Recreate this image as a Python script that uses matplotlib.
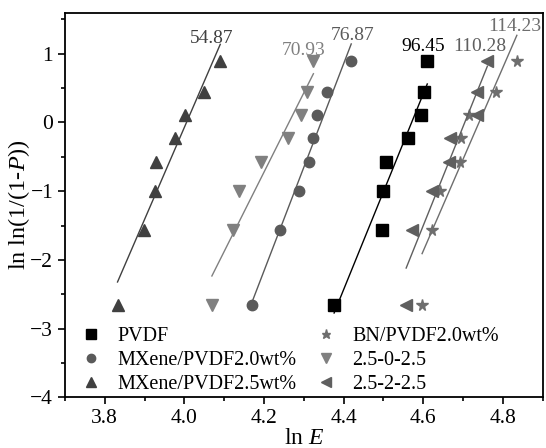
import numpy as np
import matplotlib
matplotlib.use("Agg")
import matplotlib.pyplot as plt

plt.rcParams['font.family'] = ['Liberation Serif', 'DejaVu Serif']
plt.rcParams['mathtext.fontset'] = 'custom'
plt.rcParams['mathtext.rm'] = 'Liberation Serif'
plt.rcParams['mathtext.it'] = 'Liberation Serif:italic'

# ln ln(1/(1-P)) for the 8 ranked samples (same for every series)
y_rank = [-2.65, -1.56, -1.0, -0.58, -0.22, 0.11, 0.45, 0.89]

# ln E of each sample, by series
x_pvdf = [4.376, 4.496, 4.500, 4.506, 4.562, 4.594, 4.601, 4.610]
x_mx20 = [4.170, 4.240, 4.288, 4.313, 4.324, 4.332, 4.357, 4.419]
x_mx25 = [3.832, 3.899, 3.926, 3.928, 3.976, 4.002, 4.048, 4.090]
x_bn20 = [4.597, 4.622, 4.641, 4.691, 4.694, 4.716, 4.782, 4.835]
x_202 = [4.069, 4.122, 4.137, 4.192, 4.260, 4.294, 4.307, 4.324]
x_222 = [4.557, 4.572, 4.622, 4.664, 4.668, 4.736, 4.736, 4.761]

labels = ['PVDF', 'MXene/PVDF2.0wt%', 'MXene/PVDF2.5wt%',
          'BN/PVDF2.0wt%', '2.5-0-2.5', '2.5-2-2.5']
# Weibull scale values written above each fit line
e0_text = ['96.45', '76.87', '54.87', '114.23', '70.93', '110.28']
e0_pos = [(4.601, 1.11), (4.422, 1.27), (4.069, 1.22),
          (4.830, 1.39), (4.300, 1.05), (4.741, 1.11)]

series = [x_pvdf, x_mx20, x_mx25, x_bn20, x_202, x_222]
markers = ['s', 'o', '^', '*', 'v', '<']
msizes = [8.5, 7.5, 8.5, 8.5, 8.5, 8.5]
colors = ['#000000', '#5a5a5a', '#404040', '#6e6e6e', '#808080', '#5f5f5f']

fig, ax = plt.subplots(figsize=(5.46, 4.48), dpi=100)
fig.subplots_adjust(left=0.119, right=0.994, bottom=0.113, top=0.972)

handles = []
for xs, m, ms, c in zip(series, markers, msizes, colors):
    h, = ax.plot(xs, y_rank, linestyle='none', marker=m, ms=ms, color=c)
    handles.append(h)
    k, b = np.polyfit(xs, y_rank, 1)
    xl = np.array([min(xs), max(xs)])
    ax.plot(xl, k * xl + b, color=c, lw=1.0)

for t, (px, py), c in zip(e0_text, e0_pos, colors):
    ax.text(px, py, t, color=c, fontsize=14, ha='center', va='center')

ax.legend(handles, labels, ncol=2, loc='lower left', frameon=False,
          fontsize=14.5, handlelength=1.0, handletextpad=0.8,
          columnspacing=1.0, labelspacing=0.25, borderaxespad=0.0,
          markerscale=0.8, borderpad=0.2, bbox_to_anchor=(0.0245, -0.002))

ax.set_xlim(3.7, 4.9)
ax.set_ylim(-4, 1.6)
ax.set_xticks([3.8, 4.0, 4.2, 4.4, 4.6, 4.8])
ax.set_xticks(np.arange(3.7, 4.91, 0.1), minor=True)
ax.set_yticks([-4, -3, -2, -1, 0, 1])
ax.set_yticks(np.arange(-3.5, 1.6, 1.0), minor=True)
ax.tick_params(which='both', direction='out', labelsize=15.5, width=1.2)
ax.tick_params(which='major', length=5)
ax.tick_params(which='minor', length=3)
for s in ax.spines.values():
    s.set_linewidth(1.3)

ax.set_xlabel(r'ln $E$', fontsize=17, labelpad=0)
ax.set_ylabel(r'ln ln(1/(1-$P$))', fontsize=17.5, labelpad=-1)

fig.savefig('out.png', dpi=100)
